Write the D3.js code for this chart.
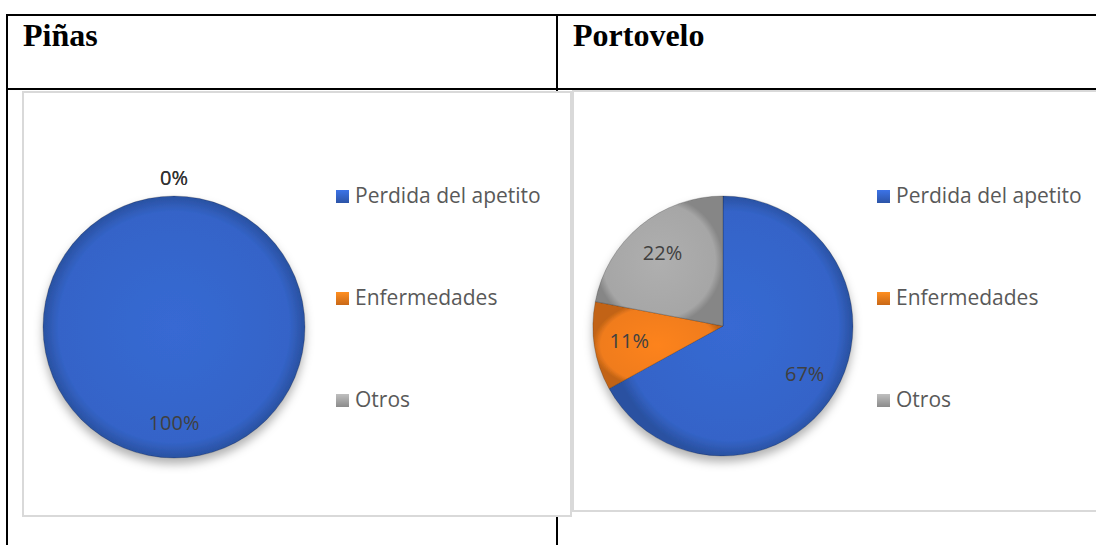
<!DOCTYPE html>
<html>
<head>
<meta charset="utf-8">
<script src="https://cdn.jsdelivr.net/npm/d3@7"></script>
<style>
  body { margin: 0; background: #fff; }
  svg { display: block; }
</style>
</head>
<body>
<svg id="chart"></svg>
<script>
// data
const categories = ["Perdida del apetito", "Enfermedades", "Otros"];
const pinasValues = [100, 0, 0];
const portoveloValues = [67, 11, 22];
const panelTitles = ["Piñas", "Portovelo"];
const colors = ["#3464c8", "#f07c1c", "#a6a6a6"];

const W = 1096, H = 545;
const svg = d3.select("#chart").attr("width", W).attr("height", H);
const defs = svg.append("defs");

// gradients, a bit darker at the rim like the office bevel
colors.forEach((c, i) => {
    const g = defs.append("radialGradient").attr("id", "grad" + i)
        .attr("cx", "50%").attr("cy", "50%").attr("r", "50%");
    g.append("stop").attr("offset", "0%").attr("stop-color", d3.color(c).brighter(0.15));
    g.append("stop").attr("offset", "88%").attr("stop-color", c);
    g.append("stop").attr("offset", "100%").attr("stop-color", d3.color(c).darker(0.6));
    const s = defs.append("linearGradient").attr("id", "sq" + i)
        .attr("x1", 0).attr("y1", 0).attr("x2", 0).attr("y2", 1);
    s.append("stop").attr("offset", "0%").attr("stop-color", d3.color(c).brighter(0.4));
    s.append("stop").attr("offset", "100%").attr("stop-color", d3.color(c).darker(0.5));
});
const shadow = defs.append("filter").attr("id", "shadow")
    .attr("x", "-20%").attr("y", "-20%").attr("width", "140%").attr("height", "150%");
shadow.append("feDropShadow").attr("dx", 0).attr("dy", 6).attr("stdDeviation", 5)
    .attr("flood-color", "#000").attr("flood-opacity", 0.3);

// table lines
const table = svg.append("g").attr("stroke", "#000").attr("stroke-width", 2);
table.append("line").attr("x1", 6).attr("x2", W).attr("y1", 15).attr("y2", 15);
table.append("line").attr("x1", 6).attr("x2", W).attr("y1", 89).attr("y2", 89);
table.append("line").attr("x1", 7).attr("x2", 7).attr("y1", 14).attr("y2", H);
table.append("line").attr("x1", 557).attr("x2", 557).attr("y1", 14).attr("y2", H);

// titles
svg.selectAll("text.title").data(panelTitles).join("text")
    .attr("class", "title")
    .attr("x", (d, i) => i === 0 ? 23 : 573)
    .attr("y", 46)
    .attr("font-family", "Liberation Serif, Times New Roman, serif")
    .attr("font-weight", "bold")
    .attr("font-size", 32)
    .attr("fill", "#000")
    .text(d => d);

const panels = [
    { values: pinasValues, box: [23, 92, 571, 516], cx: 174, cy: 327, r: 131, legendX: 336 },
    { values: portoveloValues, box: [573, 91, 1100, 511], cx: 723, cy: 326, r: 130, legendX: 877 }
];

const pie = d3.pie().sort(null).value(d => d);
const legendY = d3.scalePoint().domain(categories).range([203, 407]);

panels.forEach(p => {
    const g = svg.append("g");
    // chart area border
    g.append("rect")
        .attr("x", p.box[0]).attr("y", p.box[1])
        .attr("width", p.box[2] - p.box[0]).attr("height", p.box[3] - p.box[1])
        .attr("fill", "#fff").attr("stroke", "#d9d9d9").attr("stroke-width", 2);

    const arcs = pie(p.values);
    const arc = d3.arc().innerRadius(0).outerRadius(p.r);
    const labelArc = d3.arc().innerRadius(p.r * 0.73).outerRadius(p.r * 0.73);
    const outerArc = d3.arc().innerRadius(p.r + 18).outerRadius(p.r + 18);

    const pg = g.append("g").attr("transform", `translate(${p.cx},${p.cy})`);
    pg.append("g").attr("filter", "url(#shadow)")
        .selectAll("path").data(arcs.filter(d => d.value > 0)).join("path")
        .attr("d", arc)
        .attr("fill", d => `url(#grad${d.index})`)
        .attr("stroke", "rgba(0,0,0,0.25)").attr("stroke-width", 0.8);

    pg.selectAll("text").data(arcs).join("text")
        .attr("transform", d => {
            const c = d.value > 0 ? labelArc.centroid(d) : outerArc.centroid(d);
            return `translate(${c})`;
        })
        .attr("text-anchor", "middle")
        .attr("dy", "0.35em")
        .attr("font-family", "Open Sans, sans-serif")
        .attr("font-size", 20)
        .attr("fill", d => d.value > 0 ? "#404040" : "#333")
        .text(d => Math.round(d.value / d3.sum(p.values) * 100) + "%");

    // legend
    const lg = g.append("g").selectAll("g").data(categories).join("g")
        .attr("transform", d => `translate(${p.legendX},${legendY(d)})`);
    lg.append("rect").attr("x", 0).attr("y", -13).attr("width", 13).attr("height", 13)
        .attr("fill", (d, i) => `url(#sq${i})`);
    lg.append("text").attr("x", 19).attr("y", 0)
        .attr("font-family", "Open Sans, sans-serif")
        .attr("font-size", 21)
        .attr("fill", "#595959")
        .text(d => d);
});
</script>
</body>
</html>
